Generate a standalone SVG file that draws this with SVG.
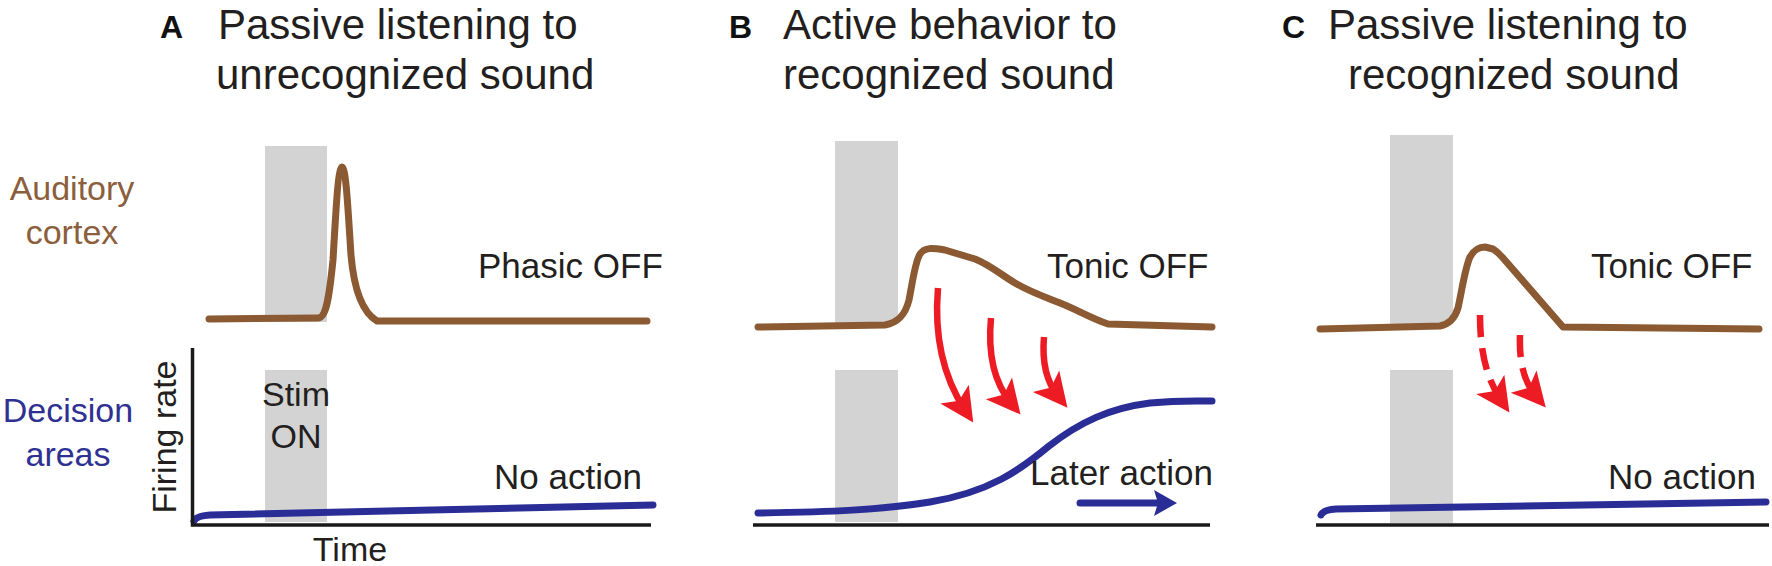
<svg xmlns="http://www.w3.org/2000/svg" width="1772" height="566" viewBox="0 0 1772 566">
<defs>
<style>
.title{font-family:"Liberation Sans",Arial,sans-serif;font-size:42px;fill:#231f20}
.letter{font-family:"Liberation Sans",Arial,sans-serif;font-size:32px;font-weight:bold;fill:#111}
.lbl{font-family:"Liberation Sans",Arial,sans-serif;font-size:35px;fill:#231f20}
.ax{font-family:"Liberation Sans",Arial,sans-serif;font-size:34px;fill:#231f20}
.brownT{font-family:"Liberation Sans",Arial,sans-serif;font-size:34px;fill:#8b5e3c}
.blueT{font-family:"Liberation Sans",Arial,sans-serif;font-size:34px;fill:#2e3192}
.stim{fill:#d3d3d3}
.brown{fill:none;stroke:#8b5a33;stroke-width:7;stroke-linecap:round;stroke-linejoin:round}
.blue{fill:none;stroke:#2b2d97;stroke-width:7;stroke-linecap:round}
.axis{fill:none;stroke:#1a1a1a;stroke-width:3.5}
.red{fill:none;stroke:#ed1c24;stroke-width:6.5}
.dash{stroke-dasharray:22 11}
</style>
<marker id="redhead" markerUnits="userSpaceOnUse" markerWidth="44" markerHeight="44" viewBox="-22 -22 44 44" refX="0" refY="0" orient="auto">
<path d="M15,0 L-19,-17 L-11,0 L-19,17 Z" fill="#ed1c24"/>
</marker>
<marker id="bluehead" markerUnits="userSpaceOnUse" markerWidth="40" markerHeight="40" viewBox="-20 -20 40 40" refX="0" refY="0" orient="auto">
<path d="M9,0 L-14,-13 L-10,0 L-14,13 Z" fill="#2b2d97"/>
</marker>
</defs>
<rect width="1772" height="566" fill="#fff"/>

<g id="row-labels">
<text class="brownT" x="72" y="200" text-anchor="middle">Auditory</text>
<text class="brownT" x="72" y="244" text-anchor="middle">cortex</text>
<text class="blueT" x="68" y="422" text-anchor="middle">Decision</text>
<text class="blueT" x="68" y="466" text-anchor="middle">areas</text>
</g>

<g id="panel-A">
<text class="letter" x="160" y="38">A</text>
<text class="title" x="218" y="39">Passive listening to</text>
<text class="title" x="216" y="89">unrecognized sound</text>
<rect class="stim" x="265" y="146" width="62" height="176"/>
<rect class="stim" x="265" y="370" width="62" height="152"/>
<path class="brown" d="M209,319 L318,318 C326,318 329,300 333,260 C336,210 338,168 342,167 C346,167 348,210 351,255 C354,290 362,312 377,321 L647,321"/>
<text class="lbl" x="478" y="278">Phasic OFF</text>
<text class="ax" x="296" y="406" text-anchor="middle">Stim</text>
<text class="ax" x="296" y="448" text-anchor="middle">ON</text>
<path class="blue" d="M194,521 Q196,516 210,515 L653,505"/>
<text class="lbl" x="494" y="489">No action</text>
<path class="axis" d="M192.5,348 L192.5,525 L651,525"/>
<text class="ax" transform="translate(176,437) rotate(-90)" text-anchor="middle">Firing rate</text>
<text class="ax" x="350" y="561" text-anchor="middle">Time</text>
</g>

<g id="panel-B">
<text class="letter" x="729" y="38">B</text>
<text class="title" x="783" y="39">Active behavior to</text>
<text class="title" x="783" y="89">recognized sound</text>
<rect class="stim" x="835" y="141" width="63" height="183"/>
<rect class="stim" x="835" y="370" width="63" height="152"/>
<path class="brown" d="M758,327 L885,325 C897,323 905,316 909,300 C913,280 915,262 920,254 C925,247 932,248 945,250 L975,259 C990,265 1000,274 1015,283 C1030,292 1045,297 1060,303 C1078,310 1090,318 1108,324 L1212,327"/>
<text class="lbl" x="1047" y="278">Tonic OFF</text>
<path class="blue" d="M758,513 C830,512 880,510 930,502 C990,492 1020,470 1049,446 C1080,422 1110,408 1150,403 C1180,400 1200,401 1212,401"/>
<text class="lbl" x="1030" y="485">Later action</text>
<path class="axis" d="M753,525 L1210,525"/>
</g>

<g id="panel-C">
<text class="letter" x="1282" y="38">C</text>
<text class="title" x="1328" y="39">Passive listening to</text>
<text class="title" x="1348" y="89">recognized sound</text>
<rect class="stim" x="1390" y="135" width="63" height="189"/>
<rect class="stim" x="1390" y="370" width="63" height="153"/>
<path class="brown" d="M1320,329 L1440,326 C1450,324 1455,318 1458,308 C1462,290 1465,268 1470,257 C1474,250 1478,247 1485,247 L1493,249 C1498,252 1500,255 1503,258 L1563,327 L1759,329"/>
<text class="lbl" x="1591" y="278">Tonic OFF</text>
<path class="blue" d="M1321,515 Q1323,510 1336,509 L1766,502"/>
<text class="lbl" x="1608" y="489">No action</text>
<path class="axis" d="M1316,525 L1769,525"/>
</g>

<g id="connectors">
<path class="red" marker-end="url(#redhead)" d="M938,288 C934,335 942,375 965,410"/>
<path class="red" marker-end="url(#redhead)" d="M991,318 C988,350 992,380 1011,403"/>
<path class="red" marker-end="url(#redhead)" d="M1044,337 C1042,360 1045,380 1058,396"/>
<path class="red dash" marker-end="url(#redhead)" d="M1480,315 C1480,350 1486,378 1501,400"/>
<path class="red dash" marker-end="url(#redhead)" d="M1520,335 C1519,362 1524,382 1536,396"/>
<path class="blue" stroke-linecap="butt" marker-end="url(#bluehead)" d="M1080,503 L1168,503"/>
</g>
</svg>
